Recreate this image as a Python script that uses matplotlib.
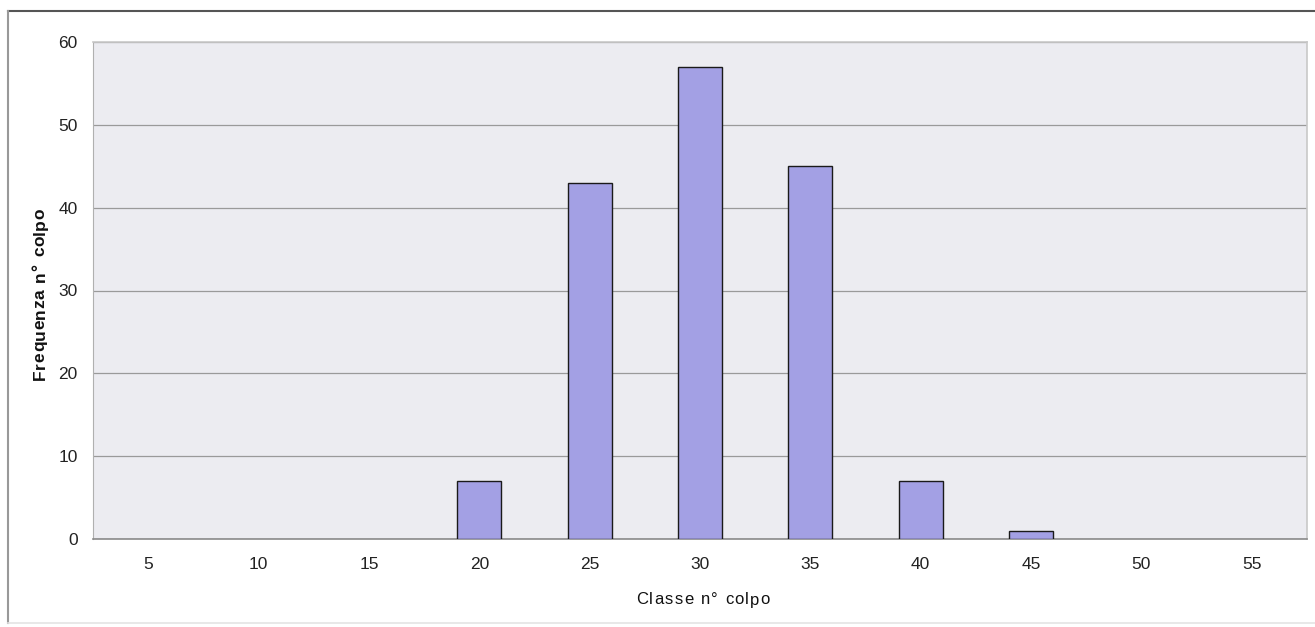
import matplotlib
matplotlib.use("Agg")
import matplotlib.pyplot as plt
from matplotlib.lines import Line2D
from matplotlib.font_manager import findfont, FontProperties
from matplotlib.ft2font import FT2Font

plt.rcParams['font.family'] = ['Liberation Sans', 'DejaVu Sans']

classes = [5, 10, 15, 20, 25, 30, 35, 40, 45, 50, 55]
frequencies = [0, 0, 0, 7, 43, 57, 45, 7, 1, 0, 0]
y_ticks = [0, 10, 20, 30, 40, 50, 60]

W, H = 1315, 627
fig = plt.figure(figsize=(W / 100, H / 100), dpi=100)
fig.patch.set_facecolor('white')

left, right, top, bottom = 93, 1307, 42, 539
ax = fig.add_axes([left / W, 1 - bottom / H, (right - left) / W, (bottom - top) / H])
ax.set_facecolor('#ECECF1')

pos = list(range(len(classes)))
edge_widths = [1.0 if f > 0 else 0 for f in frequencies]
ax.bar(pos, frequencies, width=0.4, color='#A3A0E4', edgecolor='#1a1a1a',
       linewidth=edge_widths, zorder=3)

ax.set_xlim(-0.5, len(classes) - 0.5)
ax.set_ylim(0, 60)
ax.set_yticks(y_ticks)
ax.set_yticklabels([str(v) for v in y_ticks])
ax.set_xticks(pos)
ax.set_xticklabels([str(c) for c in classes])
ax.yaxis.grid(True, color='#9a9a9a', linewidth=0.9, zorder=1)
ax.tick_params(axis='both', length=0, labelsize=12.5, colors='#222222')
ax.tick_params(axis='y', pad=11)
ax.tick_params(axis='x', pad=13)

for side in ['top', 'right']:
    ax.spines[side].set_color('#c8c8c8')
    ax.spines[side].set_linewidth(1.2)
ax.spines['left'].set_color('#b0b0b0')
ax.spines['bottom'].set_color('#8a8a8a')
ax.spines['bottom'].set_linewidth(1.2)


def spaced_text(fig, s, cx, cy, size, spacing, weight='normal', rotation=0, word_gap=0.0):
    """Draw a string centred at pixel (cx, cy) with extra tracking between letters."""
    prop = FontProperties(family='Liberation Sans', weight=weight, size=size)
    font = FT2Font(findfont(prop))
    font.set_size(size, 100)
    advances = [font.load_char(ord(ch)).linearHoriAdvance / 65536 + (word_gap if ch == ' ' else 0)
                for ch in s]
    total = sum(advances) + spacing * (len(s) - 1)
    offset = -total / 2
    for ch, adv in zip(s, advances):
        if rotation == 0:
            x, y = cx + offset, cy
        else:
            x, y = cx, cy - offset
        fig.text(x / W, 1 - y / H, ch, fontproperties=prop, color='#111111',
                 ha='left', va='center', rotation=rotation, rotation_mode='anchor')
        offset += adv + spacing


spaced_text(fig, 'Classe n° colpo', 703, 600, 12, 1.3)
spaced_text(fig, 'Frequenza n° colpo', 40, 294, 12.5, 0.5, weight='bold', rotation=90,
            word_gap=1.5)

# outer chart frame
fig.add_artist(Line2D([8 / W, 1.0], [1 - 11 / H, 1 - 11 / H], color='#555555', linewidth=1.5,
                      transform=fig.transFigure))
fig.add_artist(Line2D([8 / W, 8 / W], [1 - 11 / H, 1 - 623 / H], color='#999999', linewidth=1.5,
                      transform=fig.transFigure))
fig.add_artist(Line2D([8 / W, 1.0], [1 - 623 / H, 1 - 623 / H], color='#e4e4e4', linewidth=1.2,
                      transform=fig.transFigure))

fig.savefig('out.png', dpi=100, facecolor='white')
